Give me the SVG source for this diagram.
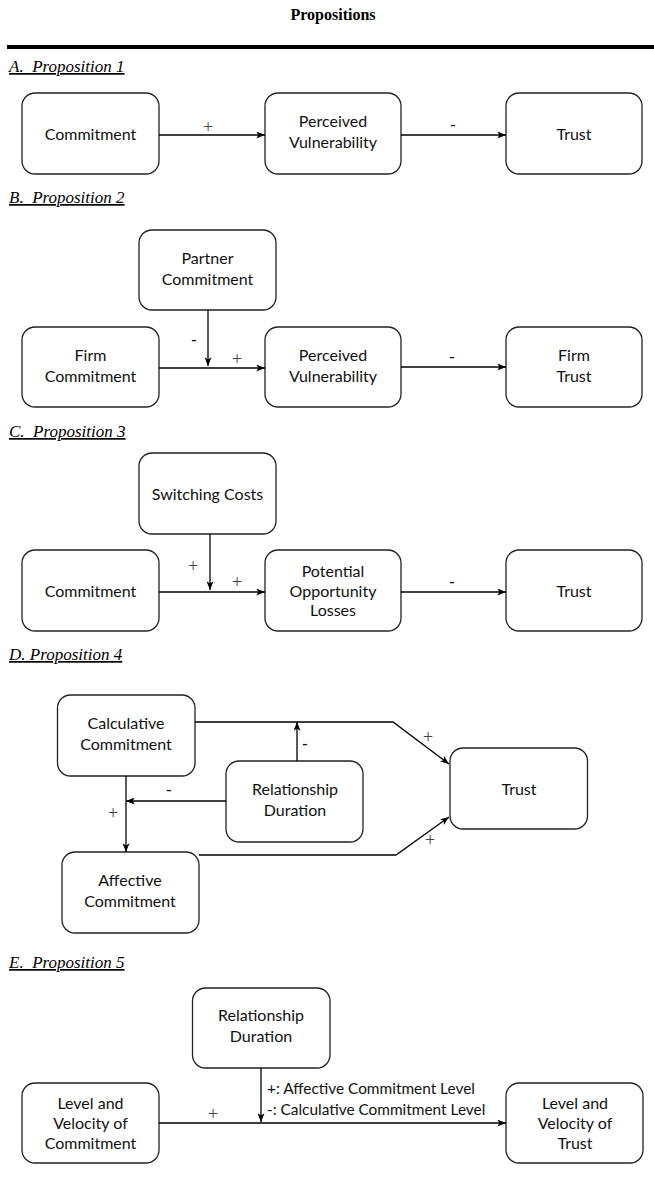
<svg xmlns="http://www.w3.org/2000/svg" width="654" height="1202" viewBox="0 0 654 1202">
<style>
.bg{fill:#fff}
.box{fill:#fff;stroke:#222;stroke-width:1.3}
.t{font-family:Lato,"Liberation Sans",sans-serif;font-size:16px;fill:#111;text-anchor:middle}
.lbl{font-family:Lato,"Liberation Sans",sans-serif;font-size:15.4px;fill:#111}
.plus{font-family:"Liberation Serif",serif;font-size:18px;fill:#444;text-anchor:middle}
.minus{font-family:Lato,"Liberation Sans",sans-serif;font-size:17px;fill:#111;text-anchor:middle}
.hd{font-family:"Liberation Serif",serif;font-size:17px;font-style:italic;text-decoration:underline;fill:#000}
.title{font-family:"Liberation Serif",serif;font-size:16px;font-weight:bold;text-anchor:middle;fill:#000}
.ln{fill:none;stroke:#000;stroke-width:1.3}
</style>
<defs>
<marker id="ah" viewBox="0 0 10 8" refX="10" refY="4" markerWidth="9" markerHeight="7" markerUnits="userSpaceOnUse" orient="auto">
<path d="M0,0 L10,4 L0,8 L2.5,4 z" fill="#000"/>
</marker>
</defs>
<rect class="bg" x="0" y="0" width="654" height="1202"/>
<text class="title" x="333" y="20">Propositions</text>
<rect x="7" y="45" width="647" height="4" fill="#000"/>

<text class="hd" x="9" y="72" xml:space="preserve">A.  Proposition 1</text>
<text class="hd" x="9" y="203" xml:space="preserve">B.  Proposition 2</text>
<text class="hd" x="9" y="437" xml:space="preserve">C.  Proposition 3</text>
<text class="hd" x="9" y="660">D. Proposition 4</text>
<text class="hd" x="9" y="968" xml:space="preserve">E.  Proposition 5</text>

<!-- A -->
<g id="a-commitment"><rect class="box" x="22" y="93" width="137" height="81" rx="13"/><text class="t" x="90.5" y="140">Commitment</text></g>
<g id="a-vulnerability"><rect class="box" x="265" y="93" width="136" height="81" rx="13"/><text class="t" x="333" y="127">Perceived</text><text class="t" x="333" y="148">Vulnerability</text></g>
<g id="a-trust"><rect class="box" x="506" y="93" width="136" height="81" rx="13"/><text class="t" x="574" y="140">Trust</text></g>

<!-- B -->
<g id="b-partner"><rect class="box" x="139" y="230" width="137" height="80" rx="13"/><text class="t" x="207.5" y="264">Partner</text><text class="t" x="207.5" y="285">Commitment</text></g>
<g id="b-firm-commitment"><rect class="box" x="22" y="327" width="137" height="80" rx="13"/><text class="t" x="90.5" y="361">Firm</text><text class="t" x="90.5" y="382">Commitment</text></g>
<g id="b-vulnerability"><rect class="box" x="265" y="327" width="136" height="80" rx="13"/><text class="t" x="333" y="361">Perceived</text><text class="t" x="333" y="382">Vulnerability</text></g>
<g id="b-firm-trust"><rect class="box" x="506" y="327" width="136" height="80" rx="13"/><text class="t" x="574" y="361">Firm</text><text class="t" x="574" y="382">Trust</text></g>

<!-- C -->
<g id="c-switching"><rect class="box" x="139" y="453" width="137" height="81" rx="13"/><text class="t" x="207.5" y="500">Switching Costs</text></g>
<g id="c-commitment"><rect class="box" x="22" y="550" width="137" height="81" rx="13"/><text class="t" x="90.5" y="597">Commitment</text></g>
<g id="c-losses"><rect class="box" x="265" y="550" width="136" height="81" rx="13"/><text class="t" x="333" y="577">Potential</text><text class="t" x="333" y="597">Opportunity</text><text class="t" x="333" y="616">Losses</text></g>
<g id="c-trust"><rect class="box" x="506" y="550" width="136" height="81" rx="13"/><text class="t" x="574" y="597">Trust</text></g>

<!-- D -->
<g id="d-calculative"><rect class="box" x="57.5" y="695" width="137.5" height="81" rx="13"/><text class="t" x="126" y="729">Calculative</text><text class="t" x="126" y="750">Commitment</text></g>
<g id="d-duration"><rect class="box" x="226" y="761" width="137" height="81" rx="13"/><text class="t" x="295" y="795">Relationship</text><text class="t" x="295" y="816">Duration</text></g>
<g id="d-trust"><rect class="box" x="450" y="748" width="137.5" height="81" rx="13"/><text class="t" x="519" y="795">Trust</text></g>
<g id="d-affective"><rect class="box" x="62" y="852" width="137" height="81" rx="13"/><text class="t" x="130" y="886">Affective</text><text class="t" x="130" y="907">Commitment</text></g>

<!-- E -->
<g id="e-duration"><rect class="box" x="192.5" y="988" width="137.5" height="80" rx="13"/><text class="t" x="261" y="1021">Relationship</text><text class="t" x="261" y="1042">Duration</text></g>
<g id="e-commitment"><rect class="box" x="22" y="1083" width="137" height="80" rx="13"/><text class="t" x="90.5" y="1109">Level and</text><text class="t" x="90.5" y="1129">Velocity of</text><text class="t" x="90.5" y="1149">Commitment</text></g>
<g id="e-trust"><rect class="box" x="506" y="1083" width="137" height="80" rx="13"/><text class="t" x="575" y="1109">Level and</text><text class="t" x="575" y="1129">Velocity of</text><text class="t" x="575" y="1149">Trust</text></g>

<g id="connectors">
<!-- A -->
<path class="ln" d="M159,135 H265" marker-end="url(#ah)"/>
<path class="ln" d="M401,135 H506" marker-end="url(#ah)"/>
<!-- B -->
<path class="ln" d="M159,368 H265" marker-end="url(#ah)"/>
<path class="ln" d="M401,367 H506" marker-end="url(#ah)"/>
<path class="ln" d="M208,310 V366" marker-end="url(#ah)"/>
<!-- C -->
<path class="ln" d="M159,592 H265" marker-end="url(#ah)"/>
<path class="ln" d="M401,592 H506" marker-end="url(#ah)"/>
<path class="ln" d="M210,534 V590" marker-end="url(#ah)"/>
<!-- D -->
<path class="ln" d="M195,722 H393 L449,764" marker-end="url(#ah)"/>
<path class="ln" d="M297,761 V722" marker-end="url(#ah)"/>
<path class="ln" d="M226,801 H126" marker-end="url(#ah)"/>
<path class="ln" d="M126,776 V852" marker-end="url(#ah)"/>
<path class="ln" d="M199,855 H396 L449,817" marker-end="url(#ah)"/>
<!-- E -->
<path class="ln" d="M159,1123 H506" marker-end="url(#ah)"/>
<path class="ln" d="M261,1068 V1122" marker-end="url(#ah)"/>
</g>

<g id="labels">
<text class="plus" x="208" y="133">+</text>
<text class="minus" x="453" y="131">-</text>
<text class="minus" x="194" y="346">-</text>
<text class="plus" x="237" y="365">+</text>
<text class="minus" x="452" y="363">-</text>
<text class="plus" x="193" y="572">+</text>
<text class="plus" x="237" y="588">+</text>
<text class="minus" x="452" y="588">-</text>
<text class="plus" x="428" y="743">+</text>
<text class="minus" x="305" y="750">-</text>
<text class="minus" x="169" y="796">-</text>
<text class="plus" x="113" y="819">+</text>
<text class="plus" x="430" y="846">+</text>
<text class="plus" x="213" y="1120">+</text>
<text class="lbl" x="267" y="1094">+: Affective Commitment Level</text>
<text class="lbl" x="267" y="1115">-: Calculative Commitment Level</text>
</g>
</svg>
